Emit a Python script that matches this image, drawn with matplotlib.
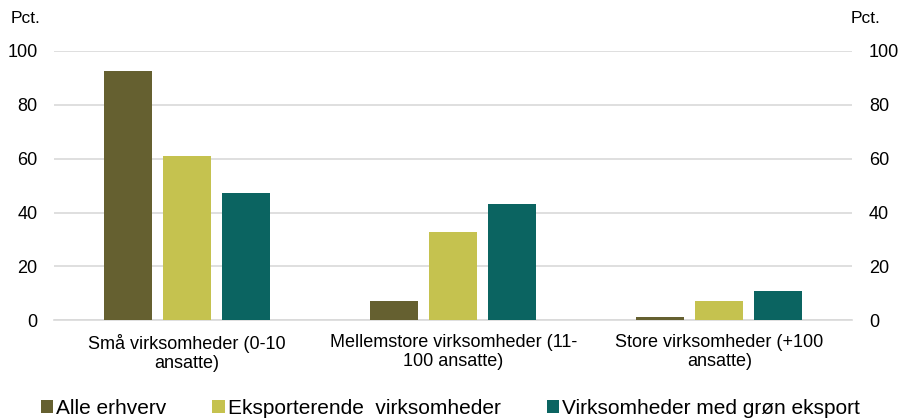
import matplotlib.pyplot as plt
import numpy as np

plt.rcParams['font.family'] = ['Liberation Sans', 'DejaVu Sans']

kategorier = ['Små virksomheder (0-10\nansatte)',
              'Mellemstore virksomheder (11-\n100 ansatte)',
              'Store virksomheder (+100\nansatte)']
serier = ['Alle erhverv', 'Eksporterende  virksomheder', 'Virksomheder med grøn eksport']
alle_erhverv = [92.6, 7.3, 1.0]
eksporterende = [61.1, 32.8, 7.0]
groen_eksport = [47.3, 43.0, 10.7]
farver = ['#656030', '#C5C24F', '#0B6461']

fig = plt.figure(figsize=(9.01, 4.18), dpi=100)
ax = fig.add_axes([0.06, 0.234, 0.886, 0.644])

x = np.arange(len(kategorier))
bredde = 0.18
trin = 0.222
for i, (vaerdier, navn) in enumerate(zip([alle_erhverv, eksporterende, groen_eksport], serier)):
    ax.bar(x + (i - 1) * trin, vaerdier, width=bredde, color=farver[i], label=navn, zorder=3)

ax.set_xlim(-0.5, 2.5)
ax.set_ylim(0, 100)
ax.set_yticks(range(0, 101, 20))
ax.grid(axis='y', color='#d9d9d9', linewidth=1.2, zorder=0)
for side in ['top', 'right', 'left']:
    ax.spines[side].set_visible(False)
ax.spines['bottom'].set_color('#d9d9d9')
ax.spines['bottom'].set_linewidth(1.2)
ax.tick_params(axis='both', length=0, labelsize=13)
ax.tick_params(axis='y', pad=12)
ax.tick_params(axis='x', pad=10)
ax.set_xticks(x)
ax.set_xticklabels(kategorier, fontsize=13, linespacing=1.15)

ax2 = ax.twinx()
ax2.set_ylim(0, 100)
ax2.set_yticks(range(0, 101, 20))
ax2.tick_params(axis='y', length=0, labelsize=13, pad=12)
for side in ['top', 'right', 'left', 'bottom']:
    ax2.spines[side].set_visible(False)

fig.text(0.012, 0.955, 'Pct.', fontsize=12.5, va='center', ha='left')
fig.text(0.944, 0.955, 'Pct.', fontsize=12.5, va='center', ha='left')

fig.legend(loc='lower center', bbox_to_anchor=(0.5, -0.045), ncol=3, frameon=False,
           fontsize=15, handlelength=0.6, handleheight=0.6, handletextpad=0.15,
           columnspacing=2.2)

fig.savefig('out.png', dpi=100)
